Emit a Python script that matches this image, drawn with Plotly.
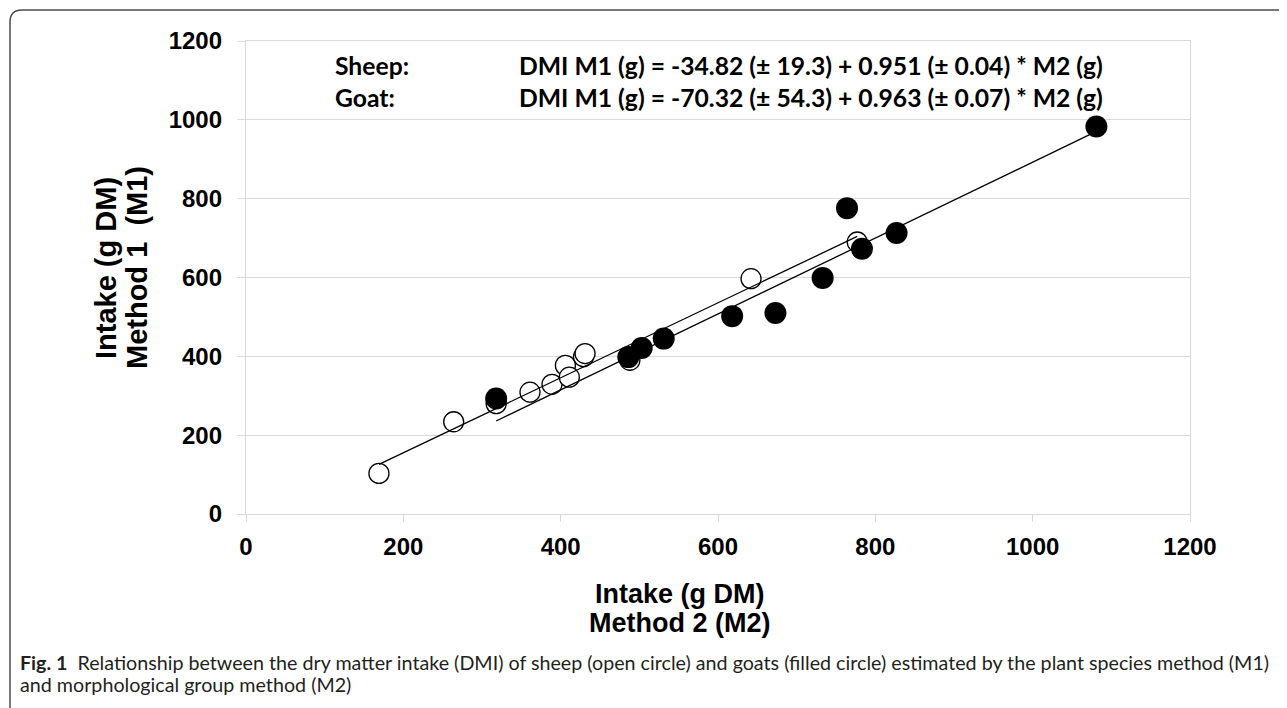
import plotly.graph_objects as go
import numpy as np

# Sheep (open circles): Method 2 (x) vs Method 1 (y), g DM
sheep_m2 = [169, 264, 318, 361, 389, 406, 411, 429, 431, 488, 642, 777]
sheep_m1 = [103, 234, 280, 309, 329, 377, 347, 399, 407, 390, 597, 690]

# Goats (filled circles)
goat_m2 = [318, 486, 503, 531, 618, 673, 733, 764, 783, 827, 1081]
goat_m1 = [293, 398, 421, 445, 502, 510, 599, 776, 673, 713, 983]

# Regression coefficients as printed on the chart (intercept, slope)
sheep_coef = [-34.82, 0.951]
goat_coef = [-70.32, 0.963]

axis_ticks = [0, 200, 400, 600, 800, 1000, 1200]

OFF = 8  # page body margin
W, H = 1287 - OFF, 708 - OFF
L, R, T, B = 246, 1190, 41, 514  # plot area in page pixels


def px(xp):
    return (xp - L) / (R - L)


def py(yp):
    return (B - yp) / (B - T)


fig = go.Figure()


def fit_line(xs, coef):
    xe = np.array([min(xs), max(xs)], dtype=float)
    return xe, coef[0] + coef[1] * xe


xs_l, ys_l = fit_line(sheep_m2, sheep_coef)
xg_l, yg_l = fit_line(goat_m2, goat_coef)

fig.add_trace(go.Scatter(x=sheep_m2, y=sheep_m1, mode="markers", name="Sheep",
                         marker=dict(size=20, color="white",
                                     line=dict(color="black", width=1.3))))
fig.add_trace(go.Scatter(x=goat_m2, y=goat_m1, mode="markers", name="Goat",
                         marker=dict(size=22, color="black",
                                     line=dict(color="black", width=0))))
fig.add_trace(go.Scatter(x=xs_l, y=ys_l, mode="lines", showlegend=False,
                         line=dict(color="black", width=1.3)))
fig.add_trace(go.Scatter(x=xg_l, y=yg_l, mode="lines", showlegend=False,
                         line=dict(color="black", width=1.3)))

tickfont = dict(family="Liberation Sans, Arial", size=24, color="black", weight="bold")
grid = "#d9d9d9"

fig.update_xaxes(range=[0, 1200], tickvals=axis_ticks, showgrid=False, zeroline=False,
                 showline=True, linecolor=grid, linewidth=1.3, mirror=True,
                 ticks="outside", ticklen=7, tickcolor=grid, tickwidth=1.3,
                 tickfont=tickfont, ticklabelstandoff=4)
fig.update_yaxes(range=[0, 1200], tickvals=axis_ticks, showgrid=True, gridcolor=grid,
                 gridwidth=1.3, zeroline=False,
                 showline=True, linecolor=grid, linewidth=1.3, mirror=True,
                 ticks="outside", ticklen=8, tickcolor=grid, tickwidth=1.3,
                 tickfont=tickfont, ticklabelstandoff=10)

xtitle_font = dict(family="Liberation Sans, Arial", size=27, color="black", weight="bold")
ytitle_font = dict(family="Liberation Sans, Arial", size=29, color="black", weight="bold")
eq_font = dict(family="Lato", size=24.7, color="black", weight="bold")
cap_font = dict(family="Lato", size=19.7, color="#231f20")


def ann(x, y, text, font, xanchor="left", angle=0):
    return dict(x=px(x), y=py(y), xref="paper", yref="paper", showarrow=False,
                text=text, font=font, xanchor=xanchor, yanchor="middle",
                textangle=angle)


annotations = [
    ann(106, 268, "Intake (g DM)", ytitle_font, "center", -90),
    ann(137, 268, "Method 1  (M1)", ytitle_font, "center", -90),
    ann(680, 594, "Intake (g DM)", xtitle_font, "center"),
    ann(680, 623, "Method 2 (M2)", xtitle_font, "center"),
    ann(333, 65, "Sheep:", eq_font),
    ann(333, 97, "Goat:", eq_font),
    ann(517, 65, "DMI M1 (g) = -34.82 (± 19.3) + 0.951 (± 0.04) * M2 (g)", eq_font),
    ann(517, 97, "DMI M1 (g) = -70.32 (± 54.3) + 0.963 (± 0.07) * M2 (g)", eq_font),
    ann(18, 662, "<b>Fig. 1</b>  Relationship between the dry matter intake (DMI) of sheep (open circle) "
                 "and goats (filled circle) estimated by the plant species method (M1)", cap_font),
    ann(18, 685, "and morphological group method (M2)", cap_font),
]

r = 12
path = (f"M {px(10)} {py(740)} L {px(10)} {py(10 + r)} "
        f"Q {px(10)} {py(10)} {px(10 + r)} {py(10)} L {px(1320)} {py(10)}")

fig.update_layout(
    width=W, height=H,
    margin=dict(l=L - OFF, r=W - (R - OFF), t=T - OFF, b=H - (B - OFF)),
    paper_bgcolor="white", plot_bgcolor="white",
    showlegend=False,
    annotations=annotations,
    shapes=[dict(type="path", path=path, xref="paper", yref="paper",
                 line=dict(color="#4d4d4d", width=1.5), layer="above")],
)

fig.write_html("out.html")
